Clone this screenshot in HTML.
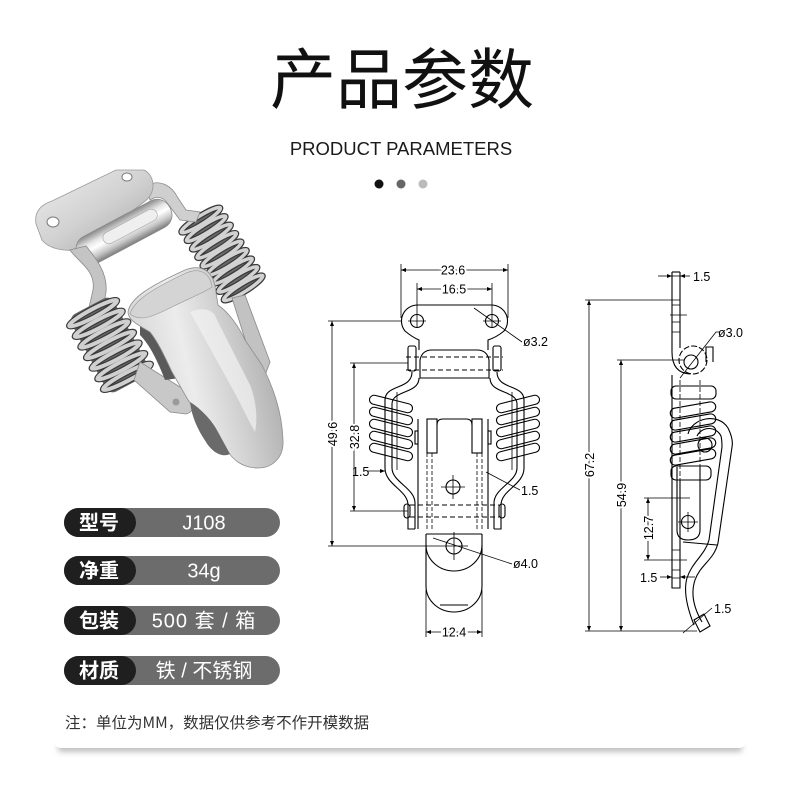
<!DOCTYPE html>
<html><head><meta charset="utf-8">
<style>
html,body{margin:0;padding:0;background:#fff;}
body{width:800px;height:800px;position:relative;overflow:hidden;font-family:"Liberation Sans","Noto Sans CJK SC",sans-serif;}
.card{position:absolute;left:53px;top:690px;width:694px;height:58px;background:#fff;border-radius:8px;box-shadow:0 9px 6px -5px rgba(0,0,0,0.25);}
svg{position:absolute;left:0;top:0;}
</style></head>
<body>
<div class="card"></div>
<svg width="800" height="800" viewBox="0 0 800 800" xmlns="http://www.w3.org/2000/svg">
<defs>
<marker id="ar" viewBox="0 0 10 10" refX="10" refY="5" markerWidth="8" markerHeight="5" markerUnits="userSpaceOnUse" orient="auto-start-reverse"><path d="M0,1 L10,5 L0,9 z" fill="#000"/></marker>
<linearGradient id="pl" x1="0" y1="0" x2="1" y2="1"><stop offset="0" stop-color="#eeeeee"/><stop offset=".5" stop-color="#d2d2d2"/><stop offset="1" stop-color="#a5a5a5"/></linearGradient>
<linearGradient id="cyl" x1="0" y1="0" x2="0" y2="1"><stop offset="0" stop-color="#8a8a8a"/><stop offset=".3" stop-color="#e6e6e6"/><stop offset=".5" stop-color="#ffffff"/><stop offset=".78" stop-color="#c4c4c4"/><stop offset="1" stop-color="#7c7c7c"/></linearGradient>
<linearGradient id="bd" x1="0" y1="0.3" x2="1" y2="0"><stop offset="0" stop-color="#d6d6d6"/><stop offset=".3" stop-color="#ececec"/><stop offset=".55" stop-color="#d0d0d0"/><stop offset=".8" stop-color="#b2b2b2"/><stop offset="1" stop-color="#8c8c8c"/></linearGradient>
</defs>

<!-- Title -->
<text x="402" y="103" font-family="'Noto Sans CJK SC',sans-serif" font-size="66" text-anchor="middle" fill="#111">产品参数</text>
<text x="401" y="155" font-family="'Liberation Sans',sans-serif" font-size="18.5" text-anchor="middle" fill="#1a1a1a">PRODUCT PARAMETERS</text>
<circle cx="379" cy="184" r="4.5" fill="#111"/>
<circle cx="401" cy="184" r="4.5" fill="#666"/>
<circle cx="423" cy="184" r="4.5" fill="#bbb"/>

<!-- Product photo -->
<g>
 <!-- right spring -->
 <g transform="translate(222,254) rotate(58)">
  <rect x="-46" y="-20" width="92" height="40" rx="8" fill="#6a6a6a"/>
  <g fill="none">
   <g stroke="#3a3a3a" stroke-width="6">
    <ellipse cx="-40" cy="0" rx="4" ry="23"/><ellipse cx="-30" cy="0" rx="4" ry="23"/><ellipse cx="-20" cy="0" rx="4" ry="23"/><ellipse cx="-10" cy="0" rx="4" ry="23"/><ellipse cx="0" cy="0" rx="4" ry="23"/><ellipse cx="10" cy="0" rx="4" ry="23"/><ellipse cx="20" cy="0" rx="4" ry="23"/><ellipse cx="30" cy="0" rx="4" ry="23"/><ellipse cx="40" cy="0" rx="4" ry="23"/>
   </g>
   <g stroke="#d2d2d2" stroke-width="3.5">
    <ellipse cx="-40" cy="0" rx="4" ry="23"/><ellipse cx="-30" cy="0" rx="4" ry="23"/><ellipse cx="-20" cy="0" rx="4" ry="23"/><ellipse cx="-10" cy="0" rx="4" ry="23"/><ellipse cx="0" cy="0" rx="4" ry="23"/><ellipse cx="10" cy="0" rx="4" ry="23"/><ellipse cx="20" cy="0" rx="4" ry="23"/><ellipse cx="30" cy="0" rx="4" ry="23"/><ellipse cx="40" cy="0" rx="4" ry="23"/>
   </g>
  </g>
 </g>
 <!-- right bracket -->
 <path d="M146,186 C160,178 172,186 178,198 L186,210 L200,212 L196,222 L180,220 L168,204 C163,196 156,196 150,200 Z" fill="#cfcfcf" stroke="#8a8a8a" stroke-width="0.8"/>
 <!-- top plate -->
 <path d="M36,224 C34,212 40,205 52,201 L116,170 L144,170 C156,176 156,194 144,202 L86,246 C72,254 50,250 42,240 Z" fill="url(#pl)" stroke="#9a9a9a" stroke-width="0.8"/>
 <ellipse cx="53" cy="222" rx="6" ry="5" fill="#fff" stroke="#7a7a7a"/>
 <ellipse cx="127" cy="177" rx="5" ry="4" fill="#fff" stroke="#7a7a7a"/>
 <!-- hinge barrel -->
 <g transform="rotate(-28 124 232)">
  <rect x="72" y="217" width="104" height="30" rx="14" fill="url(#cyl)" stroke="#8a8a8a" stroke-width="0.8"/>
  <rect x="102" y="224" width="60" height="12" rx="6" fill="#efefef" stroke="#a5a5a5" stroke-width="0.6"/>
 </g>
 <!-- left hinge arm -->
 <path d="M70,250 C78,262 96,270 93,290 L88,312 L102,316 L106,292 C108,272 94,256 86,246 Z" fill="#c4c4c4" stroke="#8a8a8a" stroke-width="0.8"/>
 <!-- left spring -->
 <g transform="translate(110,345) rotate(62)">
  <rect x="-44" y="-24" width="88" height="48" rx="8" fill="#666"/>
  <g fill="none">
   <g stroke="#3a3a3a" stroke-width="6.5">
    <ellipse cx="-36" cy="0" rx="4" ry="27"/><ellipse cx="-24" cy="0" rx="4" ry="27"/><ellipse cx="-12" cy="0" rx="4" ry="27"/><ellipse cx="0" cy="0" rx="4" ry="27"/><ellipse cx="12" cy="0" rx="4" ry="27"/><ellipse cx="24" cy="0" rx="4" ry="27"/><ellipse cx="36" cy="0" rx="4" ry="27"/>
   </g>
   <g stroke="#d0d0d0" stroke-width="4">
    <ellipse cx="-36" cy="0" rx="4" ry="27"/><ellipse cx="-24" cy="0" rx="4" ry="27"/><ellipse cx="-12" cy="0" rx="4" ry="27"/><ellipse cx="0" cy="0" rx="4" ry="27"/><ellipse cx="12" cy="0" rx="4" ry="27"/><ellipse cx="24" cy="0" rx="4" ry="27"/><ellipse cx="36" cy="0" rx="4" ry="27"/>
   </g>
  </g>
 </g>
 <!-- lower arm -->
 <path d="M140,362 L188,392 C196,398 196,412 186,414 L170,412 L134,380 Z" fill="#c8c8c8" stroke="#8a8a8a" stroke-width="0.8"/>
 <circle cx="176" cy="402" r="3.5" fill="#9a9a9a"/>
 <!-- right thin arm -->
 <path d="M232,298 L245,295 L270,362 L264,378 L256,374 Z" fill="#c2c2c2" stroke="#888" stroke-width="0.8"/>
 <!-- dark gap behind body -->
 <path d="M140,318 C150,322 165,335 172,352 L180,378 L165,380 C158,362 150,345 140,335 Z" fill="#5a5a5a"/>
 <!-- main body -->
 <path d="M128,312 C130,298 150,286 185,270 C200,264 212,270 215,286 L218,305 C228,312 238,325 245,340 L262,365 C272,385 282,410 283,440 C284,458 272,468 258,468 C243,468 232,460 226,448 L215,428 C205,420 195,410 188,400 L172,372 C164,355 158,342 150,332 C138,325 128,320 128,312 Z" fill="url(#bd)" stroke="#8f8f8f" stroke-width="0.8"/>
 <!-- curl -->
 <path d="M130,314 C134,300 154,288 186,273 C200,267 210,273 212,287 C205,292 190,298 172,307 C152,317 140,322 130,314 Z" fill="#d4d4d4" stroke="#999" stroke-width="0.6"/>
 <path d="M190,312 C200,308 208,308 214,314 L250,385 C256,400 258,418 255,432 C248,420 240,402 232,388 Z" fill="#f2f2f2" opacity="0.7"/>
 <!-- dark gap -->
 <path d="M190,402 C200,408 212,420 218,432 L230,454 C222,458 212,452 206,442 C198,430 192,418 190,402 Z" fill="#6a6a6a"/>
</g>

<!-- Table -->
<g font-family="'Liberation Sans','Noto Sans CJK SC',sans-serif" fill="#fff">
 <rect x="64" y="508" width="216" height="29" rx="14.5" fill="#6c6c6c"/>
 <rect x="64" y="508" width="72" height="29" rx="14.5" fill="#1f1f1f"/>
 <text x="99" y="529.5" font-size="20" font-weight="bold" text-anchor="middle" font-family="'Noto Sans CJK SC',sans-serif">型号</text>
 <text x="204" y="529.5" font-size="20" text-anchor="middle">J108</text>

 <rect x="64" y="556" width="216" height="29" rx="14.5" fill="#6c6c6c"/>
 <rect x="64" y="556" width="72" height="29" rx="14.5" fill="#1f1f1f"/>
 <text x="99" y="577.5" font-size="20" font-weight="bold" text-anchor="middle" font-family="'Noto Sans CJK SC',sans-serif">净重</text>
 <text x="204" y="577.5" font-size="20" text-anchor="middle">34g</text>

 <rect x="64" y="606" width="216" height="29" rx="14.5" fill="#6c6c6c"/>
 <rect x="64" y="606" width="72" height="29" rx="14.5" fill="#1f1f1f"/>
 <text x="99" y="627.5" font-size="20" font-weight="bold" text-anchor="middle" font-family="'Noto Sans CJK SC',sans-serif">包装</text>
 <text x="204" y="627.5" font-size="20" text-anchor="middle" letter-spacing="1">500 套 / 箱</text>

 <rect x="64" y="656" width="216" height="29" rx="14.5" fill="#6c6c6c"/>
 <rect x="64" y="656" width="72" height="29" rx="14.5" fill="#1f1f1f"/>
 <text x="99" y="677.5" font-size="20" font-weight="bold" text-anchor="middle" font-family="'Noto Sans CJK SC',sans-serif">材质</text>
 <text x="204" y="677.5" font-size="20" text-anchor="middle">铁 / 不锈钢</text>
</g>

<!-- Note -->
<text x="65" y="728" font-family="'Noto Sans CJK SC',sans-serif" font-size="15.5" fill="#333">注：单位为MM，数据仅供参考不作开模数据</text>

<!-- FRONT DRAWING -->
<g fill="none" stroke="#000" stroke-width="1.1">
 <path d="M417,305 H492 A16,16 0 0 1 504,331 Q497,337 488,340 V350"/>
 <path d="M417,305 A16,16 0 0 0 405,331 Q412,337 419,340 V350"/>
 <circle cx="417" cy="321" r="6.5"/>
 <circle cx="492" cy="321" r="6.5"/>
 <path d="M408,321 H426 M483,321 H501" stroke-width="0.7"/>
 <rect x="408" y="346" width="8" height="25" rx="2"/>
 <rect x="493" y="346" width="8" height="25" rx="2"/>
 <path d="M420,378 V360 Q422,350 432,350 H477 Q487,350 489,360 V378 Z"/>
 <path d="M406,357 H503 M406,370 H503" stroke-dasharray="5,3"/>
 <path d="M412,372 C412,390 385,384 385,400 V468 C385,485 408,490 408,505 V529 H415"/>
 <path d="M419,378 C419,394 392,390 392,404 V468 C392,482 415,488 415,503 V529"/>
 <path d="M397,392 V470" stroke-width="0.8"/>
 <path d="M497,372 C497,390 524,384 524,400 V468 C524,485 501,490 501,505 V529 H494"/>
 <path d="M490,378 C490,394 517,390 517,404 V468 C517,482 494,488 494,503 V529"/>
 <path d="M512,392 V470" stroke-width="0.8"/>
 <g transform="translate(391,404) rotate(14)"><rect x="-22" y="-4.5" width="44" height="9" rx="4.5"/></g>
 <g transform="translate(391,416) rotate(14)"><rect x="-22" y="-4.5" width="44" height="9" rx="4.5"/></g>
 <g transform="translate(391,428) rotate(14)"><rect x="-22" y="-4.5" width="44" height="9" rx="4.5"/></g>
 <g transform="translate(391,440) rotate(14)"><rect x="-22" y="-4.5" width="44" height="9" rx="4.5"/></g>
 <g transform="translate(391,452) rotate(14)"><rect x="-22" y="-4.5" width="44" height="9" rx="4.5"/></g>
 <g transform="translate(518,404) rotate(-14)"><rect x="-22" y="-4.5" width="44" height="9" rx="4.5"/></g>
 <g transform="translate(518,416) rotate(-14)"><rect x="-22" y="-4.5" width="44" height="9" rx="4.5"/></g>
 <g transform="translate(518,428) rotate(-14)"><rect x="-22" y="-4.5" width="44" height="9" rx="4.5"/></g>
 <g transform="translate(518,440) rotate(-14)"><rect x="-22" y="-4.5" width="44" height="9" rx="4.5"/></g>
 <g transform="translate(518,452) rotate(-14)"><rect x="-22" y="-4.5" width="44" height="9" rx="4.5"/></g>
 <path d="M418,419 V529 M488,419 V529"/>
 <rect x="427" y="419" width="10" height="34"/>
 <rect x="472" y="419" width="10" height="34"/>
 <path d="M437,425 Q437,419 443,419 H466 Q472,419 472,425"/>
 <rect x="415" y="431" width="3" height="13"/>
 <rect x="488" y="431" width="3" height="13"/>
 <path d="M427,453 V529 M432,453 V529 M477,453 V529 M482,453 V529 M437,425 V453 M472,425 V453" stroke-dasharray="4,2" stroke-width="0.8"/>
 <circle cx="453" cy="487" r="7"/>
 <path d="M441,487 H465 M453,475 V499" stroke-width="0.8"/>
 <path d="M410,505 H499 M410,517 H499" stroke-dasharray="5,3"/>
 <rect x="404" y="504" width="6" height="14" rx="3"/>
 <rect x="499" y="504" width="6" height="14" rx="3"/>
 <path d="M426,534 H482"/>
 <path d="M426,534 V586 A28,26 0 0 0 482,586 V534"/>
 <path d="M426,545 A28,26 0 0 0 482,545"/>
 <path d="M440,605 H468"/>
 <circle cx="454" cy="546" r="8"/>
 <path d="M440,546 H468 M454,532 V560" stroke-width="0.8"/>
</g>
<g fill="none" stroke="#000" stroke-width="0.8">
 <path d="M401,264 V318 M508,264 V318 M417,283 V328 M492,283 V328"/>
 <path d="M401,270 H508" marker-start="url(#ar)" marker-end="url(#ar)"/>
 <path d="M417,289 H492" marker-start="url(#ar)" marker-end="url(#ar)"/>
 <path d="M474,308 L522,342"/>
 <path d="M332,321 V546" marker-start="url(#ar)" marker-end="url(#ar)"/>
 <path d="M328,321 H401 M328,546 H440"/>
 <path d="M354,363 V511" marker-start="url(#ar)" marker-end="url(#ar)"/>
 <path d="M350,363 H408 M350,511 H408"/>
 <path d="M367,471 H385" marker-end="url(#ar)"/>
 <path d="M486,472 L520,490"/>
 <path d="M433,538 L512,564"/>
 <path d="M426,590 V637 M482,590 V637"/>
 <path d="M426,632 H482" marker-start="url(#ar)" marker-end="url(#ar)"/>
</g>
<g font-family="'Liberation Sans',sans-serif" font-size="12.5" fill="#000" stroke="#fff" stroke-width="4" paint-order="stroke">
 <text x="453" y="274.5" text-anchor="middle">23.6</text>
 <text x="454" y="293.5" text-anchor="middle">16.5</text>
 <text x="523" y="346" stroke="none">ø3.2</text>
 <text transform="translate(337,434) rotate(-90)" text-anchor="middle">49.6</text>
 <text transform="translate(359,437) rotate(-90)" text-anchor="middle">32.8</text>
 <text x="352" y="476" stroke="none">1.5</text>
 <text x="521" y="495" stroke="none">1.5</text>
 <text x="513" y="568" stroke="none">ø4.0</text>
 <text x="454" y="636.5" text-anchor="middle">12.4</text>
</g>

<!-- SIDE DRAWING -->
<g fill="none" stroke="#000" stroke-width="1.1">
 <path d="M672,272 V352 Q672,373 690,374"/>
 <path d="M680,272 V348"/>
 <path d="M672,272 H680"/>
 <path d="M672,300 H680 M672,305 H680 M670,315 H687 M672,322 H680 M672,332 H680" stroke-width="0.8"/>
 <circle cx="693" cy="360" r="14" stroke-dasharray="6,2"/>
 <circle cx="691" cy="362" r="7"/>
 <path d="M706,362 V347 H713 V362"/>
 <rect x="671" y="386" width="45" height="13" rx="5"/>
 <g transform="translate(693,410) rotate(-10)"><rect x="-23" y="-5" width="46" height="10" rx="5"/></g>
 <g transform="translate(693,422) rotate(-10)"><rect x="-23" y="-5" width="46" height="10" rx="5"/></g>
 <g transform="translate(693,434) rotate(-10)"><rect x="-23" y="-5" width="46" height="10" rx="5"/></g>
 <g transform="translate(693,446) rotate(-10)"><rect x="-23" y="-5" width="46" height="10" rx="5"/></g>
 <g transform="translate(693,457) rotate(-10)"><rect x="-23" y="-5" width="46" height="10" rx="5"/></g>
 <rect x="671" y="466" width="40" height="14" rx="5"/>
 <path d="M680,380 V500 M700,380 V470" stroke-dasharray="5,2" stroke-width="0.8"/>
 <path d="M688,434 C692,418 718,412 728,428 C732,436 733,442 732,447 L718,543 C714,560 700,565 695,580 C690,595 695,610 702,622"/>
 <path d="M697,436 C702,426 716,426 721,436 C722,440 722,444 722,447 L709,540 C705,555 692,562 687,578 C683,592 688,610 694,625"/>
 <circle cx="705" cy="445" r="7"/>
 <path d="M694,620 L704,614 L710,626 L700,632 Z"/>
 <path d="M677,467 V530 Q677,540 688,540 Q700,540 700,530 V467"/>
 <path d="M683,542 L717,545"/>
 <circle cx="688" cy="522" r="6.5"/>
 <path d="M678,522 H698 M688,512 V532" stroke-width="0.8"/>
 <path d="M672,375 V588 H680 V480"/>
 <path d="M672,550 H680 M672,570 H680 M672,578 H680" stroke-width="0.8"/>
</g>
<g fill="none" stroke="#000" stroke-width="0.8">
 <path d="M658,276 H672" marker-end="url(#ar)"/>
 <path d="M690,276 H680" marker-end="url(#ar)"/>
 <path d="M672,276 H680"/>
 <path d="M589,300 V631" marker-start="url(#ar)" marker-end="url(#ar)"/>
 <path d="M585,300 H672"/>
 <path d="M621,360 V631" marker-start="url(#ar)" marker-end="url(#ar)"/>
 <path d="M617,360 H684"/>
 <path d="M585,631 H697"/>
 <path d="M680,378 L716,332 H720"/>
 <path d="M648,498 V560" marker-start="url(#ar)" marker-end="url(#ar)"/>
 <path d="M644,498 H690 M644,560 H687"/>
 <path d="M660,577 H672" marker-end="url(#ar)"/>
 <path d="M695,577 H680" marker-end="url(#ar)"/>
 <path d="M683,633 L712,608"/>
</g>
<g font-family="'Liberation Sans',sans-serif" font-size="12.5" fill="#000" stroke="#fff" stroke-width="4" paint-order="stroke">
 <text x="693" y="281" stroke="none">1.5</text>
 <text x="718" y="337" stroke="none">ø3.0</text>
 <text transform="translate(594,465) rotate(-90)" text-anchor="middle">67.2</text>
 <text transform="translate(626,495) rotate(-90)" text-anchor="middle">54.9</text>
 <text transform="translate(653,528) rotate(-90)" text-anchor="middle">12.7</text>
 <text x="640" y="582" stroke="none">1.5</text>
 <text x="714" y="613" stroke="none">1.5</text>
</g>
</svg>
</body></html>
